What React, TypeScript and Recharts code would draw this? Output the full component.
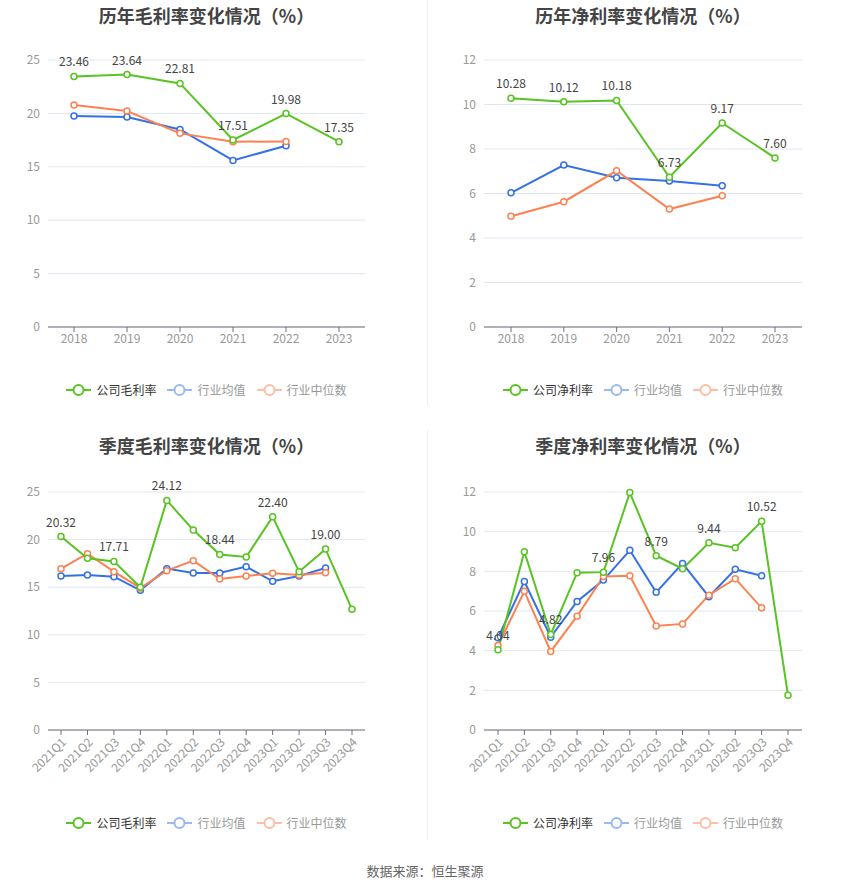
import { LineChart, Line, XAxis, YAxis, CartesianGrid, LabelList } from "recharts";

const YEARS = ["2018", "2019", "2020", "2021", "2022", "2023"];
const GROSS_COMPANY = [23.46, 23.64, 22.81, 17.51, 19.98, 17.35];
const GROSS_AVG = [19.75, 19.66, 18.5, 15.6, 16.97, null];
const GROSS_MEDIAN = [20.78, 20.22, 18.13, 17.34, 17.38, null];

const NET_COMPANY = [10.28, 10.12, 10.18, 6.73, 9.17, 7.6];
const NET_AVG = [6.03, 7.28, 6.71, 6.56, 6.35, null];
const NET_MEDIAN = [4.98, 5.63, 7.02, 5.3, 5.9, null];

const QUARTERS = [
    "2021Q1", "2021Q2", "2021Q3", "2021Q4",
    "2022Q1", "2022Q2", "2022Q3", "2022Q4",
    "2023Q1", "2023Q2", "2023Q3", "2023Q4",
];
const Q_GROSS_COMPANY = [20.32, 18.03, 17.71, 14.99, 24.12, 21.0, 18.44, 18.17, 22.4, 16.63, 19.0, 12.68];
const Q_GROSS_AVG = [16.18, 16.28, 16.1, 14.67, 16.95, 16.49, 16.49, 17.16, 15.62, 16.18, 17.02, null];
const Q_GROSS_MEDIAN = [16.95, 18.52, 16.63, 14.92, 16.74, 17.79, 15.86, 16.18, 16.46, 16.28, 16.53, null];

const Q_NET_COMPANY = [4.04, 8.99, 4.82, 7.93, 7.96, 11.97, 8.79, 8.13, 9.44, 9.19, 10.52, 1.75];
const Q_NET_AVG = [4.65, 7.49, 4.68, 6.48, 7.56, 9.06, 6.94, 8.4, 6.72, 8.1, 7.78, null];
const Q_NET_MEDIAN = [4.26, 6.99, 3.96, 5.74, 7.74, 7.78, 5.24, 5.35, 6.8, 7.63, 6.16, null];

const GREEN = "#58c322";
const BLUE = "#3571e4";
const ORANGE = "#fb8352";
const FONT = '"Noto Sans CJK SC", "Noto Sans", sans-serif';

function makeRows(cats: string[], company: any[], avg: any[], median: any[]) {
    return cats.map((c, i) => ({ cat: c, company: company[i], avg: avg[i], median: median[i] }));
}

function makeLabel(every: number) {
    return (props: any) => {
        const { x, y, value, index } = props;
        if (value == null || index % every !== 0) return null;
        return (
            <text x={x} y={y - 10} textAnchor="middle" fill="#444" fontSize={12} fontFamily={FONT}>
                {Number(value).toFixed(2)}
            </text>
        );
    };
}

function LegendIcon({ color }: { color: string }) {
    return (
        <svg width={25} height={14} style={{ display: "block" }}>
            <line x1={0} y1={7} x2={25} y2={7} stroke={color} strokeWidth={2} />
            <circle cx={12.5} cy={7} r={5} fill="#fff" stroke={color} strokeWidth={2} />
        </svg>
    );
}

function Panel(props: any) {
    const {
        left, top, height, title, rows, companyName, yMax, yTicks,
        axisWidth, marginRight, marginTop, marginBottom, xHeight, pad, rotated, every, legendY,
    } = props;
    const plotCenter = (axisWidth + (425 - marginRight)) / 2;
    return (
        <div style={{ position: "absolute", left, top, width: 425, height }}>
            <div
                style={{
                    position: "absolute", left: plotCenter - 150, width: 300, top: 2, textAlign: "center",
                    fontSize: 18, fontWeight: "bold", color: "#444", fontFamily: FONT,
                }}
            >
                {title}
            </div>
            <LineChart
                width={425}
                height={height}
                data={rows}
                margin={{ top: marginTop, right: marginRight, bottom: marginBottom, left: 0 }}
                style={{ position: "absolute", left: 0, top: 0 }}
            >
                <CartesianGrid vertical={false} stroke="#e0e6f1" />
                <XAxis
                    dataKey="cat"
                    height={xHeight}
                    padding={{ left: pad, right: pad }}
                    interval={0}
                    tickSize={5}
                    tickLine={{ stroke: "#6e7079" }}
                    axisLine={{ stroke: "#6e7079" }}
                    angle={rotated ? -45 : 0}
                    textAnchor={rotated ? "end" : "middle"}
                    tick={{ fill: "#999", fontSize: 12, fontFamily: FONT }}
                />
                <YAxis
                    width={axisWidth}
                    domain={[0, yMax]}
                    ticks={yTicks}
                    axisLine={false}
                    tickLine={false}
                    tick={{ fill: "#999", fontSize: 12, fontFamily: FONT }}
                />
                <Line
                    dataKey="avg"
                    stroke={BLUE}
                    strokeWidth={2}
                    dot={{ r: 3, strokeWidth: 1.5, fill: "#fff", stroke: BLUE }}
                    activeDot={false}
                    isAnimationActive={false}
                />
                <Line
                    dataKey="median"
                    stroke={ORANGE}
                    strokeWidth={2}
                    dot={{ r: 3, strokeWidth: 1.5, fill: "#fff", stroke: ORANGE }}
                    activeDot={false}
                    isAnimationActive={false}
                />
                <Line
                    dataKey="company"
                    stroke={GREEN}
                    strokeWidth={2}
                    dot={{ r: 3, strokeWidth: 1.5, fill: "#fff", stroke: GREEN }}
                    activeDot={false}
                    isAnimationActive={false}
                >
                    <LabelList dataKey="company" content={makeLabel(every)} />
                </Line>
            </LineChart>
            <div
                style={{
                    position: "absolute", left: plotCenter - 200, width: 400, top: legendY - top - 8,
                    display: "flex", justifyContent: "center", alignItems: "center",
                    fontSize: 12, fontFamily: FONT, lineHeight: "16px",
                }}
            >
                <LegendIcon color={GREEN} />
                <span style={{ marginLeft: 5, marginRight: 11, color: "#333" }}>{companyName}</span>
                <LegendIcon color="#9ab8f2" />
                <span style={{ marginLeft: 5, marginRight: 11, color: "#999" }}>行业均值</span>
                <LegendIcon color="#fcbfa5" />
                <span style={{ marginLeft: 5, color: "#999" }}>行业中位数</span>
            </div>
        </div>
    );
}

export default function App() {
    const top = { top: 0, height: 405, marginTop: 60, marginBottom: 48, xHeight: 30, rotated: false, legendY: 390 };
    const bottom = { top: 430, height: 410, marginTop: 62, marginBottom: 50, xHeight: 60, rotated: true, legendY: 823 };
    const leftGeo = { left: 0, axisWidth: 48, marginRight: 60 };
    const rightGeo = { left: 425, axisWidth: 59, marginRight: 48 };
    return (
        <div style={{ position: "fixed", left: 0, top: 0, width: 850, height: 890, background: "#fff", overflow: "hidden" }}>
            <div style={{ position: "absolute", left: 427, top: 0, width: 1, height: 405, background: "#eee" }} />
            <div style={{ position: "absolute", left: 427, top: 430, width: 1, height: 410, background: "#eee" }} />
            <Panel
                {...top}
                {...leftGeo}
                title="历年毛利率变化情况（%）"
                rows={makeRows(YEARS, GROSS_COMPANY, GROSS_AVG, GROSS_MEDIAN)}
                companyName="公司毛利率"
                yMax={25}
                yTicks={[0, 5, 10, 15, 20, 25]}
                pad={26}
                every={1}
            />
            <Panel
                {...top}
                {...rightGeo}
                title="历年净利率变化情况（%）"
                rows={makeRows(YEARS, NET_COMPANY, NET_AVG, NET_MEDIAN)}
                companyName="公司净利率"
                yMax={12}
                yTicks={[0, 2, 4, 6, 8, 10, 12]}
                pad={27}
                every={1}
            />
            <Panel
                {...bottom}
                {...leftGeo}
                title="季度毛利率变化情况（%）"
                rows={makeRows(QUARTERS, Q_GROSS_COMPANY, Q_GROSS_AVG, Q_GROSS_MEDIAN)}
                companyName="公司毛利率"
                yMax={25}
                yTicks={[0, 5, 10, 15, 20, 25]}
                pad={13}
                every={2}
            />
            <Panel
                {...bottom}
                {...rightGeo}
                title="季度净利率变化情况（%）"
                rows={makeRows(QUARTERS, Q_NET_COMPANY, Q_NET_AVG, Q_NET_MEDIAN)}
                companyName="公司净利率"
                yMax={12}
                yTicks={[0, 2, 4, 6, 8, 10, 12]}
                pad={14}
                every={2}
            />
            <div
                style={{
                    position: "absolute", left: 0, width: 850, top: 861, textAlign: "center",
                    fontSize: 13, color: "#666", fontFamily: FONT,
                }}
            >
                数据来源：恒生聚源
            </div>
        </div>
    );
}
